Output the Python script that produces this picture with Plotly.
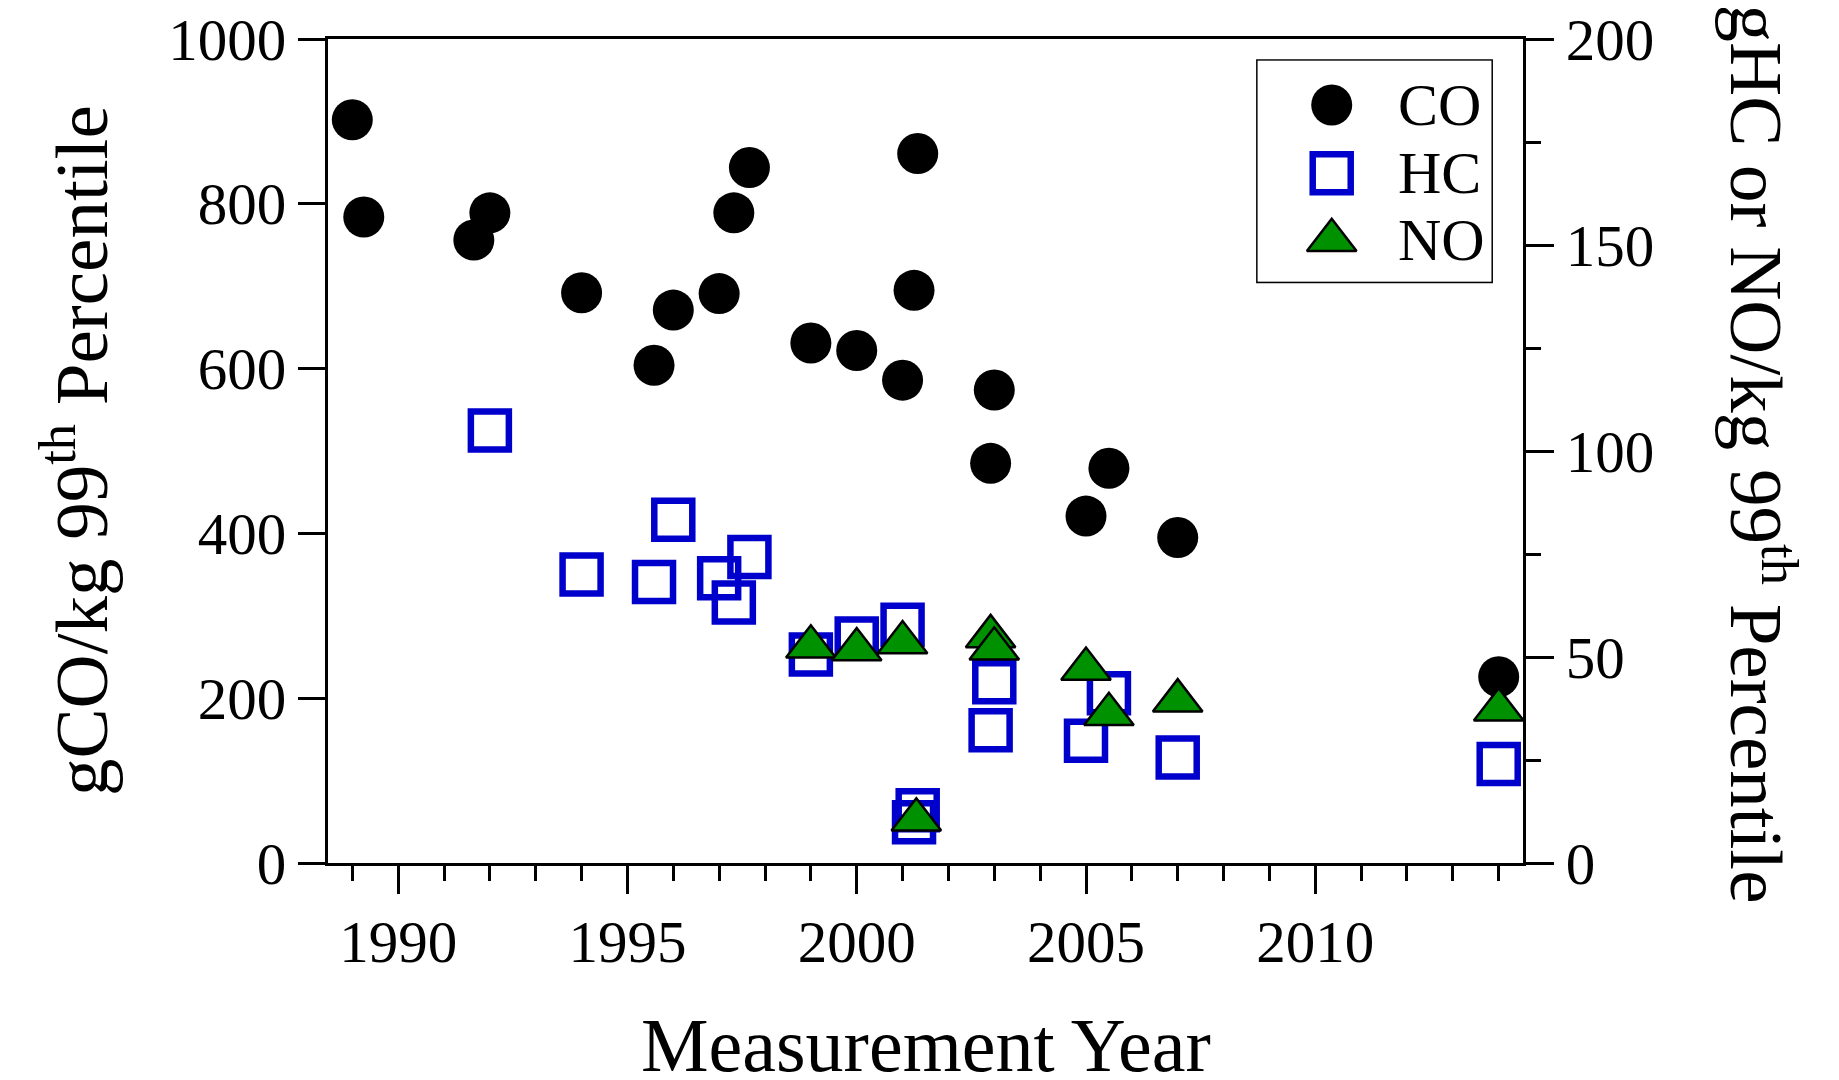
import plotly.graph_objects as go

# ---------------- data ----------------
co_year = [1989.0, 1989.25, 1991.65, 1992.0, 1994.0, 1995.58, 1996.0, 1997.0, 1997.32, 1997.66,
           1999.0, 2000.0, 2001.0, 2001.25, 2001.33, 2003.0, 2002.92, 2005.0, 2005.5, 2007.0, 2014.0]
co_val = [902, 784, 756, 789, 692, 604, 671, 691, 789, 844,
          631, 622, 586, 695, 861, 574, 485, 421, 479, 395, 226]

hc_year = [1992.0, 1994.0, 1995.58, 1996.0, 1997.0, 1997.32, 1997.66, 1999.0, 2000.0, 2001.0,
           2001.25, 2001.33, 2003.0, 2002.92, 2005.0, 2005.5, 2007.0, 2014.0]
hc_val = [105, 70, 68.2, 83.3, 69.1, 63.2, 74.3, 50.6, 54.5, 57.8,
          9.9, 12.8, 43.9, 32.2, 29.7, 41.2, 25.6, 24.0]

no_year = [1999.0, 2000.0, 2001.0, 2001.3, 2002.92, 2003.0, 2005.0, 2005.5, 2007.0, 2014.0]
no_val = [52.5, 51.8, 53.5, 10.5, 55.0, 52.0, 47.1, 36.1, 39.4, 37.2]

series_names = ["CO", "HC", "NO"]
x_tick_vals = [1990, 1995, 2000, 2005, 2010]
left_tick_vals = [0, 200, 400, 600, 800, 1000]
right_tick_vals = [0, 50, 100, 150, 200]

# ---------------- styles ----------------
FONT = "Liberation Serif"
BLUE = "#0000cc"
GREEN = "#009100"
styles = {
    "CO": dict(symbol="circle", size=41, color="black", line=dict(width=0)),
    "HC": dict(symbol="square-open", size=38, color=BLUE, line=dict(width=6.5, color=BLUE)),
    "NO": dict(symbol="triangle-up", size=43, color=GREEN, line=dict(width=2.5, color="black")),
}

fig = go.Figure()
fig.add_trace(go.Scatter(x=co_year, y=co_val, mode="markers", name="CO",
                         marker=styles["CO"], xaxis="x", yaxis="y", cliponaxis=False))
fig.add_trace(go.Scatter(x=hc_year, y=hc_val, mode="markers", name="HC",
                         marker=styles["HC"], xaxis="x", yaxis="y2", cliponaxis=False))
fig.add_trace(go.Scatter(x=no_year, y=no_val, mode="markers", name="NO",
                         marker=styles["NO"], xaxis="x", yaxis="y2", cliponaxis=False))

# ---------------- custom legend (large symbols) ----------------
L_X0, L_X1, L_Y0, L_Y1 = 0.7779, 0.9736, 0.7055, 0.9737
leg_sym_x = 0.317
leg_text_x = 0.592
leg_rows = [0.7995, 0.4905, 0.1873]
for name, ry in zip(series_names, leg_rows):
    fig.add_trace(go.Scatter(x=[leg_sym_x], y=[ry], mode="markers", marker=styles[name],
                             xaxis="x3", yaxis="y3", showlegend=False, hoverinfo="skip",
                             cliponaxis=False))

annotations = []
for name, ry in zip(series_names, leg_rows):
    annotations.append(dict(x=leg_text_x, y=ry, xref="x3", yref="y3", text=name,
                            showarrow=False, xanchor="left", yanchor="middle",
                            font=dict(family=FONT, size=60, color="black")))

# axis titles
annotations.append(dict(x=0.5, y=-0.221, xref="paper", yref="paper", text="Measurement Year",
                        showarrow=False, xanchor="center", yanchor="middle",
                        font=dict(family=FONT, size=76, color="black")))
annotations.append(dict(x=-0.2117, y=0.5, xref="paper", yref="paper",
                        text="gCO/kg 99<sup>th</sup> Percentile", textangle=-90,
                        showarrow=False, xanchor="center", yanchor="middle",
                        font=dict(family=FONT, size=75, color="black")))
annotations.append(dict(x=1.2, y=0.497, xref="paper", yref="paper",
                        text="gHC or NO/kg 99<sup>th</sup> Percentile", textangle=90,
                        showarrow=False, xanchor="center", yanchor="middle",
                        font=dict(family=FONT, size=75, color="black")))

tickfont = dict(family=FONT, size=59, color="black")

# the page body has an 8px margin, so the figure is 8px smaller to fit the window
fig.update_layout(
    width=1831, height=1072,
    margin=dict(l=320, r=316, t=31, b=217, pad=0, autoexpand=False),
    paper_bgcolor="white", plot_bgcolor="white",
    showlegend=False,
    font=dict(family=FONT, color="black"),
    xaxis=dict(range=[1988.47, 2014.53], tickmode="array", tickvals=x_tick_vals,
               ticks="outside", ticklen=28, tickwidth=3, tickcolor="black",
               showline=True, linewidth=3, linecolor="black", mirror=True,
               showgrid=False, zeroline=False, tickfont=tickfont, ticklabelstandoff=-3,
               ticklabeloverflow="allow", automargin=False,
               minor=dict(dtick=1, tick0=1990, ticks="outside", ticklen=15, tickwidth=3,
                          tickcolor="black", showgrid=False)),
    yaxis=dict(range=[0, 1000], tickmode="array", tickvals=left_tick_vals,
               ticks="outside", ticklen=27, tickwidth=3, tickcolor="black",
               showline=True, linewidth=3, linecolor="black", mirror=False,
               showgrid=False, zeroline=False, tickfont=tickfont, ticklabeloverflow="allow",
               automargin=False),
    yaxis2=dict(range=[0, 200], overlaying="y", side="right", tickmode="array",
                tickvals=right_tick_vals, ticks="outside", ticklen=28, tickwidth=3,
                tickcolor="black", showline=True, linewidth=3, linecolor="black",
                showgrid=False, zeroline=False, tickfont=tickfont, ticklabeloverflow="allow",
                automargin=False,
                minor=dict(dtick=25, tick0=0, ticks="outside", ticklen=15, tickwidth=3,
                           tickcolor="black", showgrid=False)),
    xaxis3=dict(domain=[L_X0, L_X1], range=[0, 1], anchor="y3", visible=False, fixedrange=True,
                automargin=False),
    yaxis3=dict(domain=[L_Y0, L_Y1], range=[0, 1], anchor="x3", visible=False, fixedrange=True,
                automargin=False),
    shapes=[dict(type="rect", xref="paper", yref="paper", x0=L_X0, x1=L_X1, y0=L_Y0, y1=L_Y1,
                 line=dict(color="black", width=3), fillcolor="rgba(0,0,0,0)", layer="below")],
    annotations=annotations,
)

fig.write_html("out.html")
